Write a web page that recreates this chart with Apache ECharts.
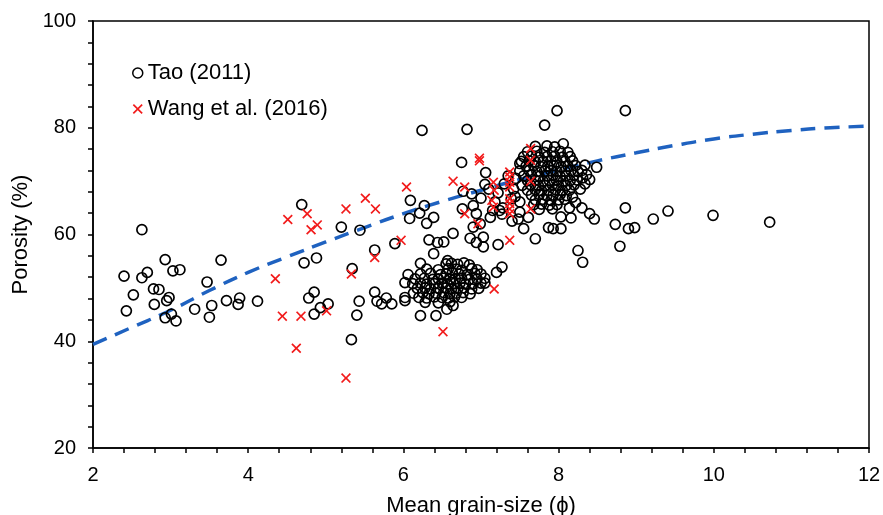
<!DOCTYPE html>
<html>
<head>
<meta charset="utf-8">
<title>Porosity vs mean grain-size</title>
<script src="https://cdn.jsdelivr.net/npm/echarts@6/dist/echarts.min.js"></script>
<style>
  html, body { margin: 0; padding: 0; background: #fff; }
  #chart { width: 883px; height: 515px; }
</style>
</head>
<body>
<div id="chart"></div>
<script>
// axis ticks
var xTicks = [2, 4, 6, 8, 10, 12];
var yTicks = [20, 40, 60, 80, 100];

// Tao (2011) - open circles, [grain-size phi, porosity %]
var taoLeft = [
  [2.63, 60.9], [2.40, 52.2], [2.43, 45.7], [2.52, 48.7], [2.63, 51.9], [2.70, 52.9], [2.78, 49.8],
  [2.85, 49.7], [2.79, 46.9], [2.93, 55.3], [2.98, 48.2], [2.95, 47.6], [2.93, 44.4], [3.01, 45.1],
  [3.07, 43.8], [3.03, 53.2], [3.12, 53.4], [3.31, 46.0], [3.47, 51.1], [3.53, 46.7], [3.50, 44.5],
  [3.65, 55.2], [3.72, 47.6], [3.87, 46.9], [3.89, 48.1], [4.12, 47.5],
  [4.69, 65.6], [4.72, 54.7], [4.88, 55.6], [4.78, 48.1], [4.85, 49.2], [4.93, 46.3], [5.03, 47.0],
  [4.85, 45.1], [5.20, 61.4], [5.44, 60.8], [5.34, 53.6], [5.43, 47.5], [5.40, 44.9], [5.33, 40.3],
  [5.63, 57.1], [5.63, 49.2], [5.66, 47.5], [5.72, 47.0], [5.78, 48.1], [5.85, 47.0], [5.89, 58.3],
  [6.02, 51.0], [6.02, 48.2], [6.02, 47.6], [6.09, 66.4], [6.08, 63.0], [6.06, 52.5]
];
var taoMiddle = [
  [6.21, 64.0], [6.27, 65.4], [6.30, 62.1], [6.39, 63.2], [6.33, 59.0], [6.39, 56.4], [6.44, 58.5],
  [6.57, 55.1], [6.22, 54.6], [6.22, 44.8], [6.42, 44.8], [6.86, 59.3], [6.94, 58.5], [7.03, 57.7],
  [7.22, 58.1], [7.03, 59.5], [6.56, 46.0], [6.64, 46.7], [7.20, 52.9], [7.27, 53.9], [7.05, 50.9],
  [6.82, 79.7], [7.82, 80.5], [6.24, 79.5], [6.75, 73.5], [7.06, 71.6], [6.88, 67.6], [6.77, 68.1],
  [7.05, 69.4], [6.76, 64.8], [6.90, 65.4], [6.94, 63.9], [7.12, 63.2], [7.27, 63.8], [6.90, 61.4],
  [6.99, 62.0], [6.64, 60.2], [6.52, 58.6], [7.48, 62.9], [7.61, 63.2], [7.70, 59.2], [7.87, 61.3],
  [7.50, 66.1], [7.39, 66.7], [7.18, 66.1], [7.50, 73.3], [7.24, 64.5], [7.44, 67.1], [7.55, 61.1],
  [7.50, 64.2], [7.10, 68.5], [7.22, 67.8], [7.30, 69.5], [7.35, 71.0], [7.28, 65.0], [7.15, 64.5],
  [7.40, 62.5], [7.00, 66.8], [7.42, 68.5], [7.45, 70.5]
];
var taoRight = [
  [7.98, 83.2], [8.86, 83.2], [8.06, 77.0], [8.49, 72.6], [8.34, 73.0], [8.31, 70.6], [8.34, 69.5],
  [8.18, 67.0], [8.30, 65.0], [8.40, 63.9], [8.46, 62.9], [8.86, 65.0], [9.22, 62.9], [8.73, 61.9],
  [8.90, 61.1], [8.98, 61.3], [8.03, 63.3], [8.16, 63.1], [7.93, 61.1], [8.03, 61.1], [9.41, 64.4],
  [9.99, 63.6], [10.72, 62.3], [8.79, 57.8], [8.25, 57.0], [8.31, 54.8],
  [8.30, 72.0], [8.36, 71.2], [8.40, 70.3], [8.28, 68.5], [8.22, 66.0], [8.14, 65.0]
];
// dense lower cluster (phi 6.1-7.1)
var taoLowCluster = [
  [6.55, 54.5], [6.62, 54.6], [6.70, 54.4], [6.78, 54.7], [6.85, 54.3],
  [6.30, 53.5], [6.45, 53.4], [6.58, 53.6], [6.68, 53.5], [6.75, 53.3], [6.88, 53.6], [6.95, 53.4],
  [6.22, 52.6], [6.35, 52.7], [6.48, 52.5], [6.55, 52.6], [6.63, 52.8], [6.72, 52.6], [6.82, 52.5], [6.92, 52.7], [7.00, 52.6],
  [6.15, 51.7], [6.27, 51.8], [6.38, 51.6], [6.45, 51.7], [6.52, 51.8], [6.60, 51.6], [6.67, 51.7], [6.75, 51.8], [6.85, 51.6], [6.95, 51.7], [7.05, 51.8],
  [6.12, 50.8], [6.22, 50.9], [6.30, 50.7], [6.40, 50.8], [6.50, 50.9], [6.57, 50.7], [6.65, 50.8], [6.73, 50.9], [6.80, 50.7], [6.90, 50.8], [7.00, 50.9],
  [6.18, 49.9], [6.28, 50.0], [6.35, 49.8], [6.45, 49.9], [6.55, 50.0], [6.62, 49.8], [6.70, 49.9], [6.78, 50.0], [6.88, 49.8], [6.97, 49.9],
  [6.13, 49.0], [6.25, 49.1], [6.33, 48.9], [6.42, 49.0], [6.52, 49.1], [6.60, 48.9], [6.68, 49.0], [6.77, 49.1], [6.86, 48.9],
  [6.20, 48.2], [6.30, 48.1], [6.40, 48.3], [6.50, 48.2], [6.58, 48.1], [6.66, 48.3], [6.75, 48.2],
  [6.28, 47.3], [6.45, 47.2], [6.60, 47.4]
];
// dense upper cluster (phi 7.5-8.4)
var taoHighCluster = [
  [7.70, 76.5], [7.85, 76.6], [7.95, 76.4],
  [7.60, 75.5], [7.72, 75.6], [7.82, 75.4], [7.92, 75.5], [8.02, 75.6], [8.12, 75.4],
  [7.55, 74.6], [7.65, 74.7], [7.75, 74.5], [7.85, 74.6], [7.95, 74.7], [8.05, 74.5], [8.15, 74.6],
  [7.52, 73.7], [7.62, 73.8], [7.70, 73.6], [7.80, 73.7], [7.90, 73.8], [7.98, 73.6], [8.08, 73.7], [8.18, 73.8],
  [7.58, 72.8], [7.68, 72.9], [7.77, 72.7], [7.86, 72.8], [7.94, 72.9], [8.03, 72.7], [8.12, 72.8], [8.22, 72.9],
  [7.50, 71.9], [7.62, 72.0], [7.72, 71.8], [7.82, 71.9], [7.90, 72.0], [7.98, 71.8], [8.08, 71.9], [8.16, 72.0], [8.25, 71.8],
  [7.55, 71.0], [7.65, 71.1], [7.75, 70.9], [7.85, 71.0], [7.93, 71.1], [8.02, 70.9], [8.10, 71.0], [8.20, 71.1],
  [7.60, 70.1], [7.70, 70.2], [7.80, 70.0], [7.88, 70.1], [7.97, 70.2], [8.06, 70.0], [8.15, 70.1], [8.24, 70.2],
  [7.53, 69.2], [7.64, 69.3], [7.74, 69.1], [7.83, 69.2], [7.92, 69.3], [8.00, 69.1], [8.10, 69.2], [8.20, 69.3],
  [7.60, 68.3], [7.70, 68.4], [7.78, 68.2], [7.87, 68.3], [7.96, 68.4], [8.05, 68.2], [8.14, 68.3],
  [7.65, 67.4], [7.75, 67.5], [7.85, 67.3], [7.93, 67.4], [8.02, 67.5], [8.10, 67.3],
  [7.70, 66.5], [7.80, 66.6], [7.90, 66.4], [8.00, 66.5], [8.08, 66.6],
  [7.68, 65.6], [7.78, 65.7], [7.88, 65.5], [7.98, 65.6],
  [7.75, 64.7], [7.92, 64.8]
];

// Wang et al. (2016) - red crosses
var wangData = [
  [4.51, 62.8], [4.76, 63.9], [4.81, 60.9], [4.89, 61.8], [4.35, 51.7], [4.44, 44.7], [4.68, 44.7],
  [4.62, 38.7], [5.01, 45.7], [5.26, 64.8], [5.51, 66.8], [5.64, 64.8], [5.33, 52.6], [5.63, 55.7],
  [5.26, 33.1], [5.97, 58.9], [6.04, 68.9], [6.51, 41.8], [7.17, 49.8], [7.37, 58.9], [6.98, 74.3],
  [6.98, 73.8], [6.64, 70.0], [6.79, 68.9], [7.16, 69.8], [7.17, 68.3], [7.14, 66.4], [7.16, 65.1],
  [7.37, 71.7], [7.37, 70.8], [7.37, 69.8], [7.37, 68.9], [7.37, 66.7], [7.37, 65.8], [7.37, 64.8],
  [7.37, 63.9], [6.79, 63.9], [6.96, 62.0], [7.64, 76.1], [7.64, 73.9], [7.64, 70.0], [7.64, 64.8]
];

// fitted curve
var fitX = [2, 2.5, 3, 3.5, 4, 4.5, 5, 5.5, 6, 6.5, 7, 7.5, 8, 8.5, 9, 9.5, 10, 10.5, 11, 11.5, 12];
var fitY = [39.4, 42.6, 45.8, 49.5, 52.9, 55.8, 58.6, 61.3, 63.9, 66.2, 68.3, 70.3, 72.1, 73.8, 75.3, 76.7, 77.9, 78.8, 79.5, 80.0, 80.3];

var taoData = taoLeft.concat(taoMiddle, taoRight, taoLowCluster, taoHighCluster);
var fitData = [];
for (var i = 0; i < fitX.length; i++) {
  fitData.push([fitX[i], fitY[i]]);
}

var crossPath = 'path://M0,1.2L1.2,0L5,3.8L8.8,0L10,1.2L6.2,5L10,8.8L8.8,10L5,6.2L1.2,10L0,8.8L3.8,5Z';
var fontName = '"Liberation Sans", Arial, sans-serif';

var chart = echarts.init(document.getElementById('chart'), null, { renderer: 'canvas' });
var option = {
  animation: false,
  backgroundColor: '#fff',
  grid: {
    left: 93, right: 14, top: 21, bottom: 67,
    containLabel: false,
    outerBoundsMode: 'none',
    show: true,
    borderColor: '#000',
    borderWidth: 1.5,
    backgroundColor: 'transparent'
  },
  legend: {
    orient: 'vertical',
    left: 132,
    top: 61,
    padding: 0,
    itemGap: 12,
    itemWidth: 10,
    itemHeight: 10,
    textStyle: { fontFamily: fontName, fontSize: 22, color: '#000', lineHeight: 24 },
    data: [
      { name: 'Tao (2011)', icon: 'circle', itemStyle: { color: 'rgba(0,0,0,0)', borderColor: '#000', borderWidth: 1.5 } },
      { name: 'Wang et al. (2016)', icon: crossPath, itemStyle: { color: '#f21b1b', borderWidth: 0 } }
    ]
  },
  xAxis: {
    type: 'value',
    min: 2, max: 12, interval: 2,
    name: 'Mean grain-size (\u03d5)',
    nameLocation: 'middle',
    nameGap: 47,
    nameTextStyle: { fontFamily: fontName, fontSize: 22, color: '#000' },
    axisLine: { show: true, onZero: false, lineStyle: { color: '#000', width: 1.5 } },
    axisTick: { show: true, inside: false, length: 5, lineStyle: { color: '#000', width: 1.5 } },
    minorTick: { show: true, splitNumber: 5, length: 5, lineStyle: { color: '#000', width: 1.5 } },
    axisLabel: { fontFamily: fontName, fontSize: 20, color: '#000', margin: 17,
      formatter: function (v) { return xTicks.indexOf(v) >= 0 ? String(v) : ''; } },
    splitLine: { show: false }
  },
  yAxis: {
    type: 'value',
    min: 20, max: 100, interval: 20,
    name: 'Porosity (%)',
    nameLocation: 'middle',
    nameGap: 60,
    nameTextStyle: { fontFamily: fontName, fontSize: 22, color: '#000' },
    axisLine: { show: true, onZero: false, lineStyle: { color: '#000', width: 1.5 } },
    axisTick: { show: true, inside: false, length: 5, lineStyle: { color: '#000', width: 1.5 } },
    minorTick: { show: true, splitNumber: 5, length: 5, lineStyle: { color: '#000', width: 1.5 } },
    axisLabel: { fontFamily: fontName, fontSize: 20, color: '#000', margin: 17,
      formatter: function (v) { return yTicks.indexOf(v) >= 0 ? String(v) : ''; } },
    splitLine: { show: false }
  },
  series: [
    {
      name: 'fit',
      type: 'line',
      data: fitData,
      smooth: true,
      showSymbol: false,
      silent: true,
      z: 1,
      lineStyle: { color: '#1f62c0', width: 3.5, type: [15, 9] }
    },
    {
      name: 'Tao (2011)',
      type: 'scatter',
      data: taoData,
      symbol: 'circle',
      symbolSize: 10,
      z: 2,
      itemStyle: { color: 'rgba(0,0,0,0)', borderColor: '#000', borderWidth: 1.7, opacity: 1 }
    },
    {
      name: 'Wang et al. (2016)',
      type: 'scatter',
      data: wangData,
      symbol: crossPath,
      symbolSize: 10,
      z: 3,
      itemStyle: { color: '#f21b1b', opacity: 1 }
    }
  ]
};
chart.setOption(option);
</script>
</body>
</html>
